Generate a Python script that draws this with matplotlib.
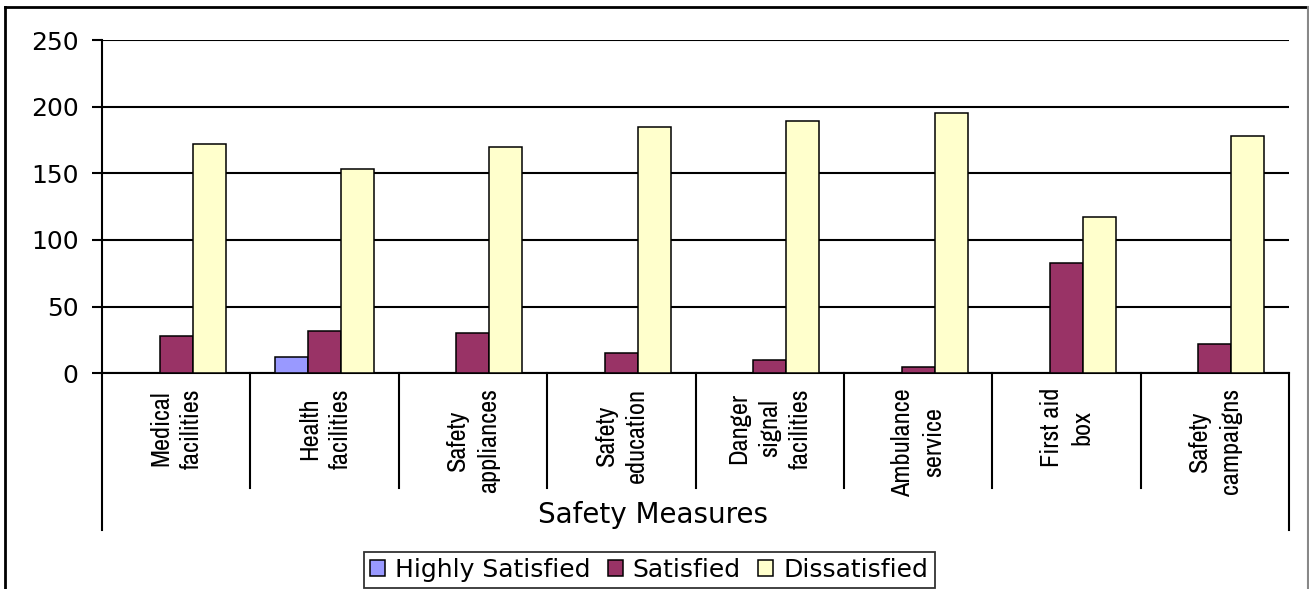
import numpy as np
import matplotlib
matplotlib.use("Agg")
import matplotlib.pyplot as plt
from matplotlib import font_manager
from matplotlib.patches import Patch
from matplotlib.lines import Line2D

# survey counts per safety measure
measures = ["Medical\nfacilities", "Health\nfacilities", "Safety\nappliances",
            "Safety\neducation", "Danger\nsignal\nfacilities", "Ambulance\nservice",
            "First aid\nbox", "Safety\ncampaigns"]
highly_satisfied = [0, 12, 0, 0, 0, 0, 0, 0]
satisfied = [28, 32, 30, 15, 10, 5, 83, 22]
dissatisfied = [172, 153, 170, 185, 189, 195, 117, 178]

series = ["Highly Satisfied", "Satisfied", "Dissatisfied"]
colours = ["#9999FF", "#993366", "#FFFFCC"]

# category names in a narrow face when one is installed
names = {f.name for f in font_manager.fontManager.ttflist}
narrow = [n for n in sorted(names) if "Narrow" in n or "Condensed" in n]
if narrow:
    cat_family, cat_size = [narrow[0], "DejaVu Sans"], 19
else:
    cat_family, cat_size = ["Liberation Sans", "DejaVu Sans"], 16

W, H = 1309, 589
fig = plt.figure(figsize=(W / 100, H / 100), dpi=100)
ax = fig.add_axes([102 / W, 1 - 373.3 / H, 1187 / W, 333.3 / H])

x = np.arange(len(measures))
bw = 1 / 4.5
for i, (vals, c, name) in enumerate(zip([highly_satisfied, satisfied, dissatisfied],
                                        colours, series)):
    ax.bar(x + (i - 1) * bw, vals, bw, color=c, edgecolor="black",
           linewidth=1.1, label=name, zorder=3)

ax.set_xlim(-0.5, len(measures) - 0.5)
ax.set_ylim(0, 250)
ax.set_yticks(np.arange(0, 251, 50))
ax.set_xticks([])
ax.yaxis.grid(True, color="black", linewidth=1.5)
ax.set_axisbelow(True)
for s in ["top", "right"]:
    ax.spines[s].set_visible(False)
for s in ["left", "bottom"]:
    ax.spines[s].set_linewidth(1.5)
ax.tick_params(axis="y", length=7, width=1.5, pad=10, labelsize=18)
for t in ax.get_yticklabels():
    t.set_fontfamily("DejaVu Sans")

# two-level category axis below the plot
tr = ax.get_xaxis_transform()
for k in range(1, len(measures)):
    ax.plot([k - 0.5, k - 0.5], [0, -0.344], color="black", lw=1.5,
            transform=tr, clip_on=False)
for xe in [-0.5, len(measures) - 0.5]:
    ax.plot([xe, xe], [0, -0.47], color="black", lw=1.5,
            transform=tr, clip_on=False)
for k, lab in enumerate(measures):
    ax.text(k, -0.044, lab, transform=tr, rotation=90, ha="center", va="top",
            multialignment="center", fontsize=cat_size, linespacing=1.4,
            family=cat_family)
fig.text(653 / W, 1 - 515 / H, "Safety Measures", ha="center", va="center",
         fontsize=20, family="DejaVu Sans")

# chart border
fig.add_artist(Line2D([5 / W, 5 / W], [-0.01, 1 - 7 / H], color="black", lw=2))
fig.add_artist(Line2D([5 / W, 1307.5 / W], [1 - 7 / H, 1 - 7 / H], color="black", lw=2))
fig.add_artist(Line2D([1307.5 / W, 1307.5 / W], [-0.01, 1 - 7 / H], color="#888888", lw=1.5))

handles = [Patch(facecolor=c, edgecolor="black", linewidth=1.1) for c in colours]
leg = fig.legend(handles, series, loc="center", bbox_to_anchor=(649 / W, 1 - 570 / H),
                 ncol=3, frameon=True, fancybox=False, edgecolor="black",
                 handlelength=0.6, handleheight=0.6, handletextpad=0.4,
                 columnspacing=0.7, borderpad=0.25,
                 prop={"family": "DejaVu Sans", "size": 18})
leg.get_frame().set_linewidth(1.3)

fig.savefig("out.png", dpi=100)
